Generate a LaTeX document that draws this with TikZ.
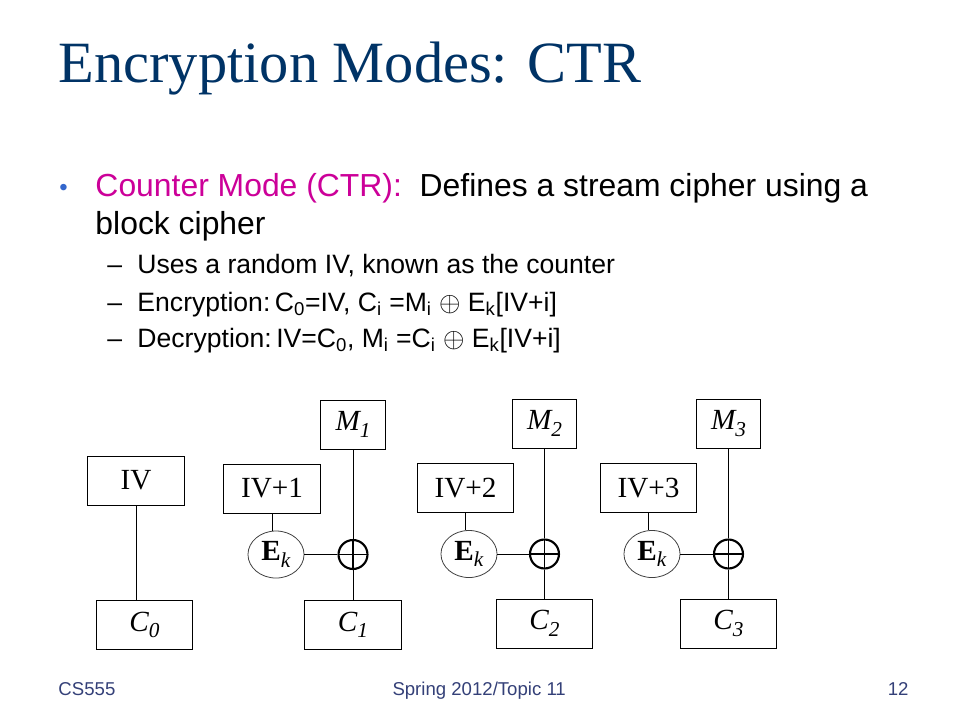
\documentclass[tikz,border=0pt]{standalone}
\usepackage{fontspec}
\setmainfont{Liberation Serif}
\setsansfont{Liberation Sans}
\usepackage{tikz}
\usetikzlibrary{shapes.geometric}
\definecolor{titleblue}{RGB}{0,51,102}
\definecolor{ctrmag}{RGB}{204,0,153}
\definecolor{dotblue}{RGB}{51,102,204}
\definecolor{footblue}{RGB}{52,64,120}
\newcommand{\FS}[1]{\fontsize{#1}{#1}\selectfont}
\newcommand{\dsub}[1]{\raisebox{-0.22em}{\FS{16}#1}}

\begin{document}
\begin{tikzpicture}[x=0.7528pt, y=-0.7528pt, line width=0.75pt]
			\tikzstyle{box}=[rectangle, draw=black, minimum width=72.3pt, minimum height=36.9pt, inner sep=0pt, font=\rmfamily\FS{22}]
			\tikzstyle{mbox}=[box, minimum width=48.2pt]
			\tikzstyle{enc}=[ellipse, draw=black!75, line width=0.6pt, minimum width=42.2pt, minimum height=35.4pt, inner sep=0pt, font=\rmfamily\FS{22}]
			\tikzstyle{xorc}=[circle, draw=black, line width=1.6pt, minimum size=21.8pt, inner sep=0pt, path picture={\draw[line width=1.2pt] (path picture bounding box.north) -- (path picture bounding box.south) (path picture bounding box.west) -- (path picture bounding box.east);}]
			\tikzstyle{txt}=[anchor=base west, inner sep=0pt, font=\sffamily\FS{24}]
			\tikzstyle{subtxt}=[txt, font=\sffamily\FS{20}]
			\tikzstyle{foot}=[txt, font=\sffamily\FS{14}, text=footblue]
			\useasboundingbox[fill=white] (0,0) rectangle (960,720);
			
			% Title and bullets
			\node[anchor=base west, inner sep=0pt, font=\rmfamily\FS{44}, text=titleblue] (title) at (58,82) {Encryption Modes: CTR};
			\node[txt, font=\sffamily\FS{18}, text=dotblue] (dot) at (59,195) {•};
			\node[txt] (line1) at (95,196) {{\color{ctrmag}Counter Mode (CTR):}\ \ Defines a stream cipher using a};
			\node[txt] (line2) at (95,234) {block cipher};
			\node[subtxt] (dash1) at (107,273) {–};
			\node[subtxt] (sub1) at (137,273) {Uses a random IV, known as the counter};
			\node[subtxt] (dash2) at (107,311) {–};
			\node[subtxt] (sub2) at (137,311) {Encryption:\,C\textsubscript{0}=IV, C\textsubscript{i} =M\textsubscript{i} $\oplus$ E\textsubscript{k}[IV+i]};
			\node[subtxt] (dash3) at (107,347) {–};
			\node[subtxt] (sub3) at (137,347) {Decryption:\,IV=C\textsubscript{0}, M\textsubscript{i} =C\textsubscript{i} $\oplus$ E\textsubscript{k}[IV+i]};
			
			% Draw blocks
			\node[box] (iv) at (136,480.5) {IV};
			\node[box] (c0) at (144.5,625) {\textit{C\dsub{0}}};
			
			\node[box] (ivp1) at (272,488.5) {IV+1};
			\node[mbox] (m1) at (353,424.5) {\textit{M\dsub{1}}};
			\node[enc] (ek1) at (276,554.5) {\textbf{E}\dsub{\textit{k}}};
			\node[xorc] (xor1) at (353,554.5) {};
			\node[box] (c1) at (353,625) {\textit{C\dsub{1}}};
			
			\node[box] (ivp2) at (465.5,488) {IV+2};
			\node[mbox] (m2) at (544.5,423.5) {\textit{M\dsub{2}}};
			\node[enc] (ek2) at (469,554) {\textbf{E}\dsub{\textit{k}}};
			\node[xorc] (xor2) at (544.5,554) {};
			\node[box] (c2) at (544.5,623.5) {\textit{C\dsub{2}}};
			
			\node[box] (ivp3) at (648.5,488) {IV+3};
			\node[mbox] (m3) at (728.5,423.5) {\textit{M\dsub{3}}};
			\node[enc] (ek3) at (652,554) {\textbf{E}\dsub{\textit{k}}};
			\node[xorc] (xor3) at (728.5,554) {};
			\node[box] (c3) at (728.5,623.5) {\textit{C\dsub{3}}};
			
			% Draw lines
			\path[draw] (iv.south) -- (iv.south |- c0.north);
			\path[draw] (ivp1.south) -- (ivp1.south |- ek1.north);
			\path[draw] (ek1) edge (xor1);
			\path[draw] (m1) edge (xor1);
			\path[draw] (xor1) edge (c1);
			\path[draw] (ivp2.south) -- (ivp2.south |- ek2.north);
			\path[draw] (ek2) edge (xor2);
			\path[draw] (m2) edge (xor2);
			\path[draw] (xor2) edge (c2);
			\path[draw] (ivp3.south) -- (ivp3.south |- ek3.north);
			\path[draw] (ek3) edge (xor3);
			\path[draw] (m3) edge (xor3);
			\path[draw] (xor3) edge (c3);
			
			% Footer
			\node[foot] (course) at (58,695) {CS555};
			\node[foot] (term) at (392,695) {Spring 2012/Topic 11};
			\node[foot, anchor=base east] (page) at (909,695) {12};
			
		\end{tikzpicture}
\end{document}
